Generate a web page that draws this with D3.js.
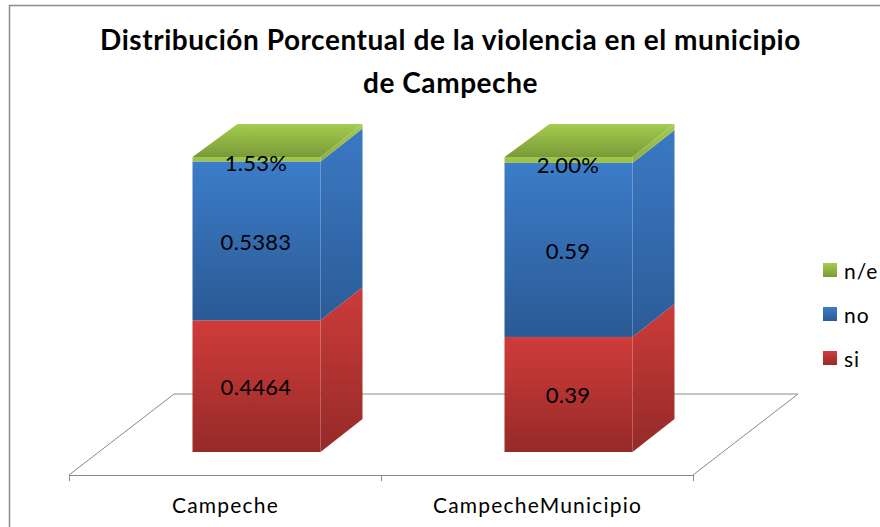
<!DOCTYPE html>
<html><head><meta charset="utf-8">
<script src="https://cdnjs.cloudflare.com/ajax/libs/d3/7.8.5/d3.min.js"></script>
<style>html,body{margin:0;padding:0;background:#fff}svg{display:block}text{font-family:Lato,"Open Sans",sans-serif;fill:#000}</style>
</head><body><svg id="c" width="880" height="527"></svg>
<script>
const categories = ["Campeche", "CampecheMunicipio"];
const seriesNames = ["si", "no", "n/e"];
const siValues = [0.4464, 0.39];
const noValues = [0.5383, 0.59];
const neValues = [0.0153, 0.02];
const siLabels = ["0.4464", "0.39"];
const noLabels = ["0.5383", "0.59"];
const neLabels = ["1.53%", "2.00%"];
const titleLines = ["Distribución Porcentual de la violencia en el municipio", "de Campeche"];

const svg = d3.select("#c");
const defs = svg.append("defs");
const ramps = {
  si:   {front:["#cf3c3a","#962a28"], side:["#cc3c3a","#942a28"], top:["#e06260","#b03634"]},
  no:   {front:["#3c7cc9","#2a5a94"], side:["#3b79c4","#2b5c98"], top:["#5b93d6","#3b79c4"]},
  "n/e":{front:["#a0c64c","#9bbf48"], side:["#a6cb50","#8cad42"], top:["#a4cc4e","#7a9a38"]}
};
const legendRamps = {si:["#cf3c3a","#962a28"], no:["#3c7cc9","#2a5a94"], "n/e":["#a4cc4e","#7a9a38"]};
function grad(id, c){
  const g = defs.append("linearGradient").attr("id", id).attr("x1",0).attr("y1",0).attr("x2",0).attr("y2",1);
  g.append("stop").attr("offset","0%").attr("stop-color",c[0]);
  g.append("stop").attr("offset","100%").attr("stop-color",c[1]);
}
seriesNames.forEach((s,i)=>{
  grad("f"+i, ramps[s].front); grad("s"+i, ramps[s].side); grad("t"+i, ramps[s].top); grad("l"+i, legendRamps[s]);
});
const dx = 42, dy = -33;
const x = d3.scaleBand().domain(categories).range([69, 693]);
const y = d3.scaleLinear().domain([0, 1]).range([452, 157]);
const barW = 128;
const barX = c => x(c) + (x.bandwidth() - barW) / 2 + 31.5;

// frame
svg.append("path").attr("d","M880 5.5H9.5V527").attr("fill","none").attr("stroke","#8c8c8c").attr("stroke-width",1.5);

// floor
const floorY = 475, backY = floorY - 81, fdx = 105;
svg.append("path")
  .attr("d",`M69 ${floorY}L${69+fdx} ${backY}H${693+fdx}L693 ${floorY}`)
  .attr("fill","none").attr("stroke","#8a8a8a").attr("stroke-width",1);
[...categories.map(c=>x(c)), 693].forEach(t=>{
  svg.append("line").attr("x1",t+.5).attr("x2",t+.5).attr("y1",floorY).attr("y2",floorY+6).attr("stroke","#8a8a8a");
});
svg.append("line").attr("x1",69).attr("x2",693).attr("y1",floorY+.5).attr("y2",floorY+.5).attr("stroke","#8a8a8a");

const table = categories.map((c,i)=>({c, vals:[siValues[i],noValues[i],neValues[i]], labs:[siLabels[i],noLabels[i],neLabels[i]]}));
table.forEach(row=>{
  const x0 = barX(row.c);
  let cum = 0;
  row.vals.forEach((v,k)=>{
    const y0 = y(cum), y1 = y(cum+v);
    cum += v;
    const g = svg.append("g");
    g.append("path").attr("d",`M${x0+barW} ${y0}L${x0+barW+dx} ${y0+dy}V${y1+dy}L${x0+barW} ${y1}Z`)
      .attr("fill",`url(#s${k})`);
    g.append("rect").attr("x",x0).attr("y",y1).attr("width",barW).attr("height",y0-y1).attr("fill",`url(#f${k})`);
    if(k===2){
      g.append("path").attr("d",`M${x0} ${y1}L${x0+dx+3} ${y1+dy}H${x0+barW+dx}L${x0+barW} ${y1}Z`).attr("fill",`url(#t${k})`);
    }
  });
  cum = 0;
  row.vals.forEach((v,k)=>{
    const ym = k===2 ? y(cum)+2 : y(cum+v/2)+1;
    cum += v;
    svg.append("text").attr("x",x0+barW/2-0.5).attr("y",ym).attr("dy","0.36em")
      .attr("text-anchor","middle").attr("font-size",22).attr("letter-spacing","0.3px").text(row.labs[k]);
  });
  svg.append("text").attr("x",x(row.c)+x.bandwidth()/2+0.5).attr("y",513)
    .attr("text-anchor","middle").attr("font-size",21).attr("letter-spacing","1.2px").text(row.c);
});

// title
titleLines.forEach((t,i)=>{
  svg.append("text").attr("x",450.5).attr("y",50+i*42.5).attr("text-anchor","middle")
    .attr("font-size",28).attr("font-weight",700).attr("letter-spacing","0.55px").text(t);
});

// legend
const legendOrder = ["n/e","no","si"];
const legendY = d3.scalePoint().domain(legendOrder).range([270,358]);
legendOrder.forEach(s=>{
  const k = seriesNames.indexOf(s);
  svg.append("rect").attr("x",823).attr("y",legendY(s)-7).attr("width",14).attr("height",14).attr("fill",`url(#l${k})`);
  svg.append("text").attr("x",844).attr("y",legendY(s)+9).attr("font-size",21).attr("letter-spacing","1px").text(s);
});
</script></body></html>
